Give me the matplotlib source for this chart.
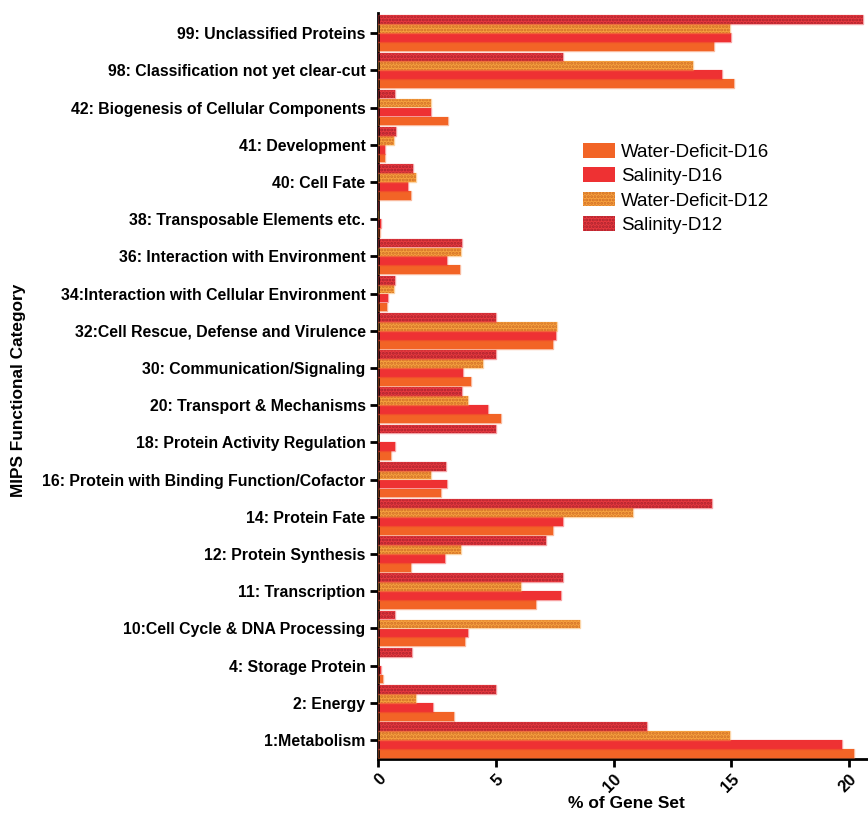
import numpy as np
import matplotlib
matplotlib.use("Agg")
import matplotlib.pyplot as plt
from matplotlib.patches import Patch

plt.rcParams["font.family"] = ["Liberation Sans", "DejaVu Sans"]
plt.rcParams["hatch.linewidth"] = 1.4

categories = [
    "1:Metabolism",
    "2: Energy",
    "4: Storage Protein",
    "10:Cell Cycle & DNA Processing",
    "11: Transcription",
    "12: Protein Synthesis",
    "14: Protein Fate",
    "16: Protein with Binding Function/Cofactor",
    "18: Protein Activity Regulation",
    "20: Transport & Mechanisms",
    "30: Communication/Signaling",
    "32:Cell Rescue, Defense and Virulence",
    "34:Interaction with Cellular Environment",
    "36: Interaction with Environment",
    "38: Transposable Elements etc.",
    "40: Cell Fate",
    "41: Development",
    "42: Biogenesis of Cellular Components",
    "98: Classification not yet clear-cut",
    "99: Unclassified Proteins",
]

water_deficit_d16 = [20.18, 3.23, 0.23, 3.69, 6.71, 1.39, 7.43, 2.66, 0.57, 5.24,
                     3.95, 7.43, 0.40, 3.48, 0.08, 1.40, 0.30, 2.96, 15.09, 14.24]
salinity_d16 = [19.70, 2.35, 0.13, 3.81, 7.76, 2.83, 7.86, 2.94, 0.71, 4.67,
                3.60, 7.55, 0.42, 2.92, 0.12, 1.26, 0.31, 2.25, 14.59, 14.99]
water_deficit_d12 = [14.92, 1.61, 0.0, 8.59, 6.06, 3.51, 10.80, 2.25, 0.0, 3.83,
                     4.47, 7.61, 0.67, 3.51, 0.0, 1.61, 0.68, 2.25, 13.35, 14.92]
salinity_d12 = [11.41, 5.01, 1.46, 0.72, 7.84, 7.13, 14.18, 2.89, 5.01, 3.57,
                5.01, 5.01, 0.74, 3.58, 0.0, 1.47, 0.75, 0.72, 7.84, 20.60]

series = [
    # label, values, offset, face, hatch colour, hatch
    ("Water-Deficit-D16", water_deficit_d16, -0.36, "#F26426", "#F26426", None),
    ("Salinity-D16", salinity_d16, -0.12, "#EE3133", "#EE3133", None),
    ("Water-Deficit-D12", water_deficit_d12, 0.12, "#F7A23F", "#CF6C26", "....."),
    ("Salinity-D12", salinity_d12, 0.36, "#E8393F", "#A8222D", "....."),
]

fig = plt.figure(figsize=(8.68, 8.13), dpi=100)
ax = fig.add_axes([0.4355, 0.0664, 0.5633, 0.9176])

y = np.arange(len(categories))
h = 0.235
handles = []
for label, vals, off, face, hcol, hatch in series:
    ax.barh(y + off, vals, height=h, color=face, edgecolor=hcol,
            hatch=hatch, linewidth=0, zorder=2)
    ax.barh(y + off, vals, height=h, fill=False, edgecolor=face,
            alpha=0.45, linewidth=1.0, zorder=3)
    handles.append(Patch(facecolor=face, edgecolor=hcol, hatch=hatch, linewidth=0))

ax.set_ylim(-0.51, len(categories) - 0.46)
ax.set_xlim(0, 20.75)
ax.set_yticks(y)
ax.set_yticklabels(categories, fontsize=11.4, fontweight="bold")
ax.set_xticks([0, 5, 10, 15, 20])
ax.set_xticklabels(["0", "5", "10", "15", "20"], fontsize=12,
                   fontweight="bold", rotation=45, ha="right",
                   rotation_mode="anchor")

for side in ("top", "right"):
    ax.spines[side].set_visible(False)
for side in ("left", "bottom"):
    ax.spines[side].set_linewidth(2.0)
ax.tick_params(axis="both", width=2.0, length=6, pad=3)

fig.text(0.722, 0.003, "% of Gene Set", fontsize=12.5, fontweight="bold",
         ha="center", va="bottom")
fig.text(0.021, 0.52, "MIPS Functional Category", rotation=90, fontsize=12.4,
         fontweight="bold", ha="center", va="center")

leg = ax.legend(handles, [s[0] for s in series], loc="upper left",
                bbox_to_anchor=(0.403, 0.836), frameon=False, fontsize=13.5,
                handlelength=1.75, handleheight=0.85, handletextpad=0.3,
                labelspacing=0.34, borderaxespad=0)

fig.savefig("out.png", dpi=100)
